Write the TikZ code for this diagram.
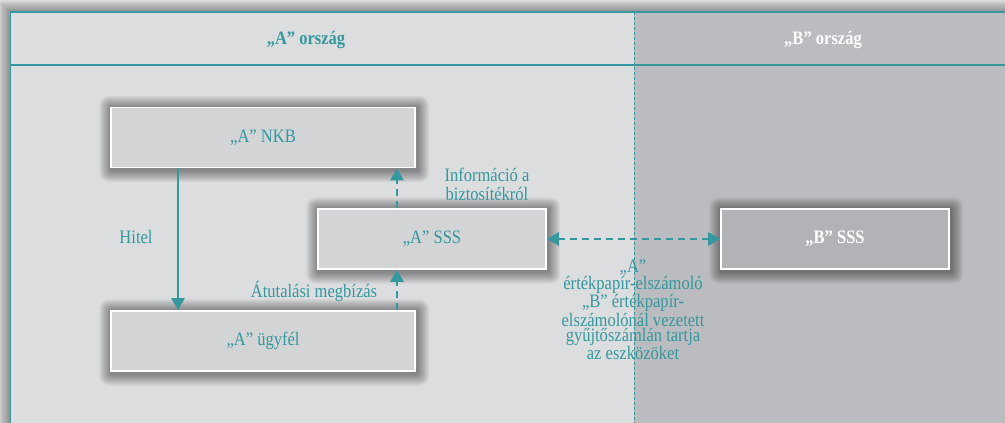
\documentclass[tikz,border=0pt]{standalone}
\usepackage{fontspec}
\setmainfont[FakeStretch=0.87]{Liberation Serif}
\usetikzlibrary{arrows.meta,calc}
\definecolor{teal1}{RGB}{52,152,158}
\definecolor{panelA}{RGB}{220,221,223}
\definecolor{panelB}{RGB}{187,188,191}
\definecolor{boxA}{RGB}{211,212,214}
\definecolor{boxB}{RGB}{178,179,182}
\definecolor{outer}{RGB}{226,226,227}
\pgfdeclarelayer{bg}\pgfdeclarelayer{shad}\pgfsetlayers{bg,shad,main}
\begin{document}
\begin{tikzpicture}[x=1pt,y=1pt,
  lbl/.style={font=\fontsize{19}{22}\selectfont},
  box/.style={lbl,draw=white,line width=1.6pt,fill=boxA,minimum width=304pt,minimum height=60pt,inner sep=0pt,text=teal1},
  sbox/.style={box,minimum width=228pt},
  bbox/.style={sbox,fill=boxB,text=white,font=\fontsize{19}{22}\selectfont\bfseries},
  tlabel/.style={lbl,text=teal1,align=center,inner sep=0pt},
  solidarrow/.style={draw=teal1,line width=2.4pt,-{Triangle[width=13pt,length=12pt]}},
  dasharrow/.style={draw=teal1,line width=2.4pt,dash pattern=on 7pt off 5pt,-{Triangle[width=13pt,length=12pt]}},
  ddarrow/.style={dasharrow,{Triangle[width=13pt,length=12pt]}-{Triangle[width=13pt,length=12pt]}},
  head/.style={font=\fontsize{19}{22}\selectfont\bfseries,inner sep=0pt}
]
\useasboundingbox (0,0) rectangle (1005,423);
\begin{pgfonlayer}{bg}
  \fill[outer] (0,0) rectangle (1005,423);
  \foreach \i in {1,...,14}{
    \fill[black,opacity=0.028] (10-\i*0.85,-20) rectangle (1030,411+\i*0.85);
  }
  \fill[panelA] (10,0) rectangle (634,411);
  \fill[panelB] (634,0) rectangle (1005,411);
  \draw[teal1,line width=1.2pt] (10,411) -- (1005,411);
  \draw[teal1,line width=1.8pt] (10,358) -- (1005,358);
  \draw[teal1,line width=0.8pt,dash pattern=on 3pt off 2pt] (634,411) -- (634,0);
  \draw[teal1,line width=0.9pt] (10,0) -- (10,411);
\end{pgfonlayer}

\node[head,text=teal1] (ha) at (306,383) {„A” ország};
\node[head,text=white] (hb) at (823,383) {„B” ország};

\node[box] (nkb) at (263,285.5) {„A” NKB};
\node[sbox] (asss) at (432,184) {„A” SSS};
\node[box] (ugy) at (263,82) {„A” ügyfél};
\node[bbox] (bsss) at (835,184) {„B” SSS};

\begin{pgfonlayer}{shad}
  \foreach \n in {nkb,asss,ugy,bsss}{
    \foreach \i in {1,...,16}{
      \fill[black,opacity=0.026,rounded corners=0.6*\i pt] ($(\n.south west)+(-0.75*\i+1,-0.75*\i-2)$) rectangle ($(\n.north east)+(0.75*\i+1.5,0.75*\i-1)$);
    }
  }
\end{pgfonlayer}

\coordinate (hx) at (178,0);
\coordinate (ix) at (397,0);

\draw[solidarrow] (nkb.south -| hx) -- (ugy.north -| hx);
\draw[dasharrow] (asss.north -| ix) -- (nkb.south -| ix);
\draw[dasharrow] (ugy.north -| ix) -- (asss.south -| ix);
\draw[ddarrow] (asss.east) -- (bsss.west);

\node[tlabel] (lhitel) at (136,186) {Hitel};
\node[tlabel,font=\fontsize{19}{19}\selectfont] (linfo) at (487,238.5) {Információ a\\biztosítékról};
\node[tlabel] (latut) at (314,132) {Átutalási megbízás};
\node[tlabel,font=\fontsize{19}{15.6}\selectfont] (lgyujt) at (633,113) {„A”\\értékpapír-elszámoló\\„B” értékpapír-\\elszámolónál vezetett\\gyűjtőszámlán tartja\\az eszközöket};
\end{tikzpicture}
\end{document}
